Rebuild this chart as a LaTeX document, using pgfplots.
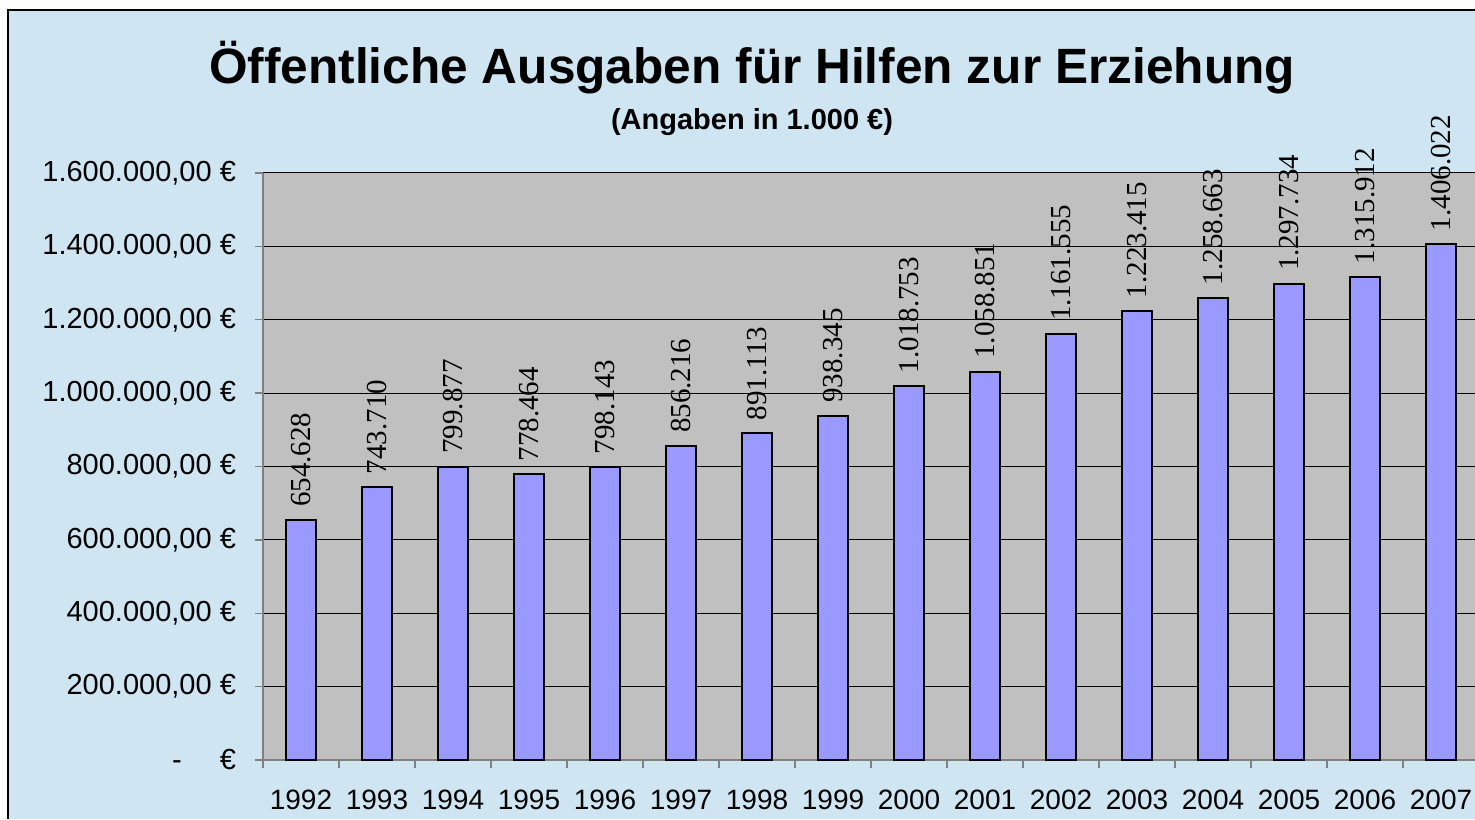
\documentclass[border=0pt]{standalone}
\usepackage{pgfplots}
\pgfplotsset{compat=1.18}
\usepackage{fontspec}
\setmainfont{Liberation Sans}
\newfontfamily\timesfont{Liberation Serif}
\definecolor{bgblue}{RGB}{207,230,242}
\definecolor{plotgray}{RGB}{192,192,192}
\definecolor{barblue}{RGB}{153,153,255}
\definecolor{axgray}{RGB}{128,128,128}
\begin{document}
\begin{tikzpicture}
\useasboundingbox (0,0) rectangle (737.5pt,409.5pt);
\clip (0,0) rectangle (737.5pt,409.5pt);
\fill[white] (0,0) rectangle (737.5pt,409.5pt);
\fill[bgblue] (4pt,0) rectangle (737.5pt,404.5pt);
\draw[black, line width=0.75pt] (4pt,0) -- (4pt,404.5pt) -- (737.5pt,404.5pt);
\begin{axis}[
  at={(131.5pt,29.5pt)}, anchor=south west,
  scale only axis, width=608pt, height=293.5pt,
  xmin=-0.5, xmax=15.5, ymin=0, ymax=1600000,
  clip=false,
  scaled y ticks=false,
  axis background/.style={fill=plotgray},
  axis lines*=left,
  axis line style={axgray, line width=0.75pt},
  tick align=outside,
  major tick length=4pt,
  tick style={axgray, line width=0.75pt},
  ytick={0,200000,400000,600000,800000,1000000,1200000,1400000,1600000},
  yticklabels={{-\hspace{19pt}€},{200.000,00 €},{400.000,00 €},{600.000,00 €},{800.000,00 €},{1.000.000,00 €},{1.200.000,00 €},{1.400.000,00 €},{1.600.000,00 €}},
  yticklabel style={font=\fontsize{14.5}{17}\selectfont, xshift=-6pt},
  xtick={-0.5,0.5,1.5,2.5,3.5,4.5,5.5,6.5,7.5,8.5,9.5,10.5,11.5,12.5,13.5,14.5,15.5},
  xticklabels={},
  extra x ticks={0,1,2,3,4,5,6,7,8,9,10,11,12,13,14,15},
  extra x tick labels={1992,1993,1994,1995,1996,1997,1998,1999,2000,2001,2002,2003,2004,2005,2006,2007},
  extra x tick style={major tick length=0pt, xticklabel style={font=\fontsize{14}{17}\selectfont, yshift=-11.5pt}},
  ymajorgrids,
  major grid style={black, line width=0.5pt},
  ybar, bar width=15pt,
  nodes near coords={\timesfont\fontsize{14.5}{17}\selectfont\pgfplotspointmeta},
  point meta=explicit symbolic,
  every node near coord/.style={rotate=90, anchor=west, inner xsep=6pt, inner ysep=0pt, text=black},
]
\addplot[fill=barblue, draw=black, line width=1pt] coordinates {
 (0,654628) [654.628]
 (1,743710) [743.710]
 (2,799877) [799.877]
 (3,778464) [778.464]
 (4,798143) [798.143]
 (5,856216) [856.216]
 (6,891113) [891.113]
 (7,938345) [938.345]
 (8,1018753) [1.018.753]
 (9,1058851) [1.058.851]
 (10,1161555) [1.161.555]
 (11,1223415) [1.223.415]
 (12,1258663) [1.258.663]
 (13,1297734) [1.297.734]
 (14,1315912) [1.315.912]
 (15,1406022) [1.406.022]
};
\end{axis}
\node[font=\fontsize{24.8}{30}\selectfont\bfseries] at (376pt,375.5pt) {Öffentliche Ausgaben für Hilfen zur Erziehung};
\node[font=\fontsize{14.5}{17}\selectfont\bfseries] at (376pt,348.5pt) {(Angaben in 1.000 €)};
\end{tikzpicture}
\end{document}
